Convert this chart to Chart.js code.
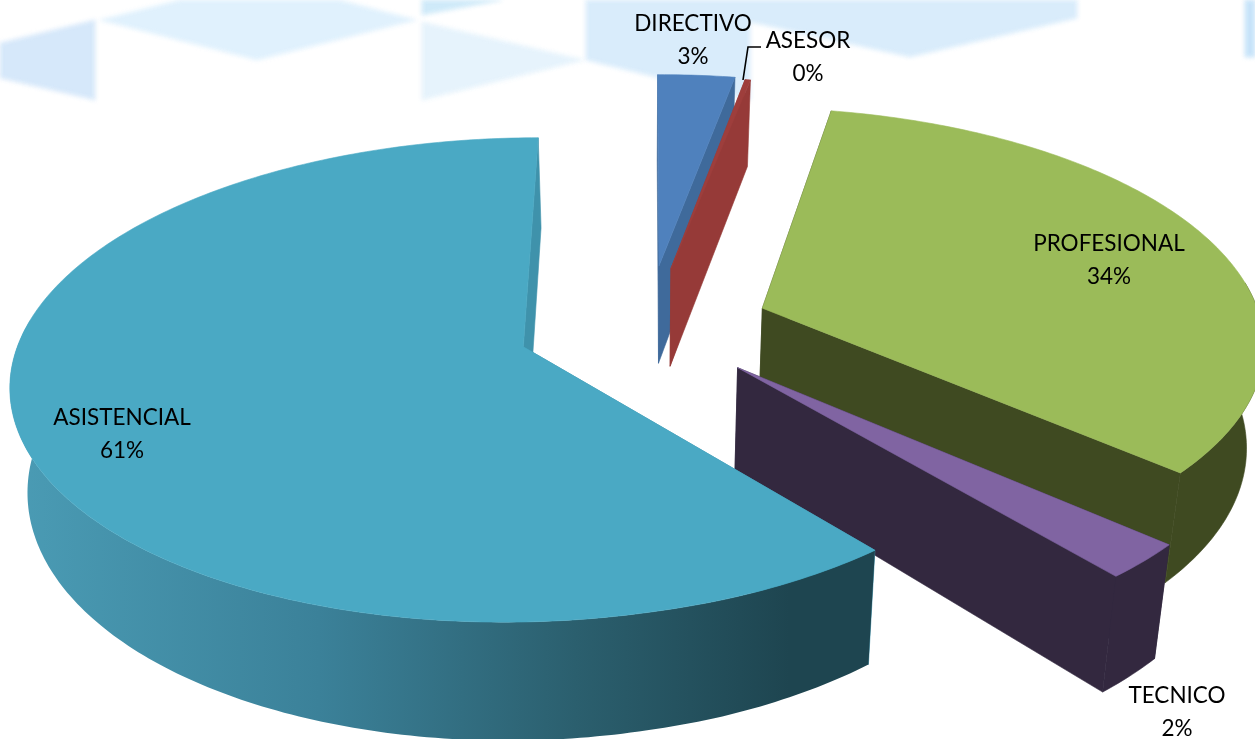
<!DOCTYPE html>
<html>
<head>
<meta charset="utf-8">
<style>html,body{margin:0;padding:0;background:#fff}canvas{display:block}</style>
<script src="https://cdn.jsdelivr.net/npm/chart.js@4"></script>
</head>
<body>
<canvas id="c" width="1255" height="739"></canvas>
<script>
const categories = ['DIRECTIVO', 'ASESOR', 'PROFESIONAL', 'TECNICO', 'ASISTENCIAL'];
const values = [2.8, 0.2, 33.5, 2.4, 61.1];
const explode = [0.27, 0.26, 0.24, 0.245, 0.26];
const topColors = ['#4F81BD', '#9E3E3C', '#9BBB59', '#8064A2', '#4AA9C4'];
const wallColors = ['#3F6A9B', '#963A38', '#3F4A21', '#33283F', '#3F92AB'];
const rimStops = [[0, '#4A9BB4'], [0.35, '#3B8199'], [0.65, '#2B5F6E'], [0.9, '#1E4550'], [1, '#1E4550']];
const labelPos = [[693, 23.5], [808, 40.5], [1109, 244], [1177, 696], [122, 418]];

const V = {X0: 647, Y0: 326, A: 500, B: 232, p: 0.135, depth: 101, vx: 640, vk: 0.028};
function proj(u, w, low) {
  const s = 1 / (1 - V.p * w);
  let X = V.X0 + V.A * u * s, Y = V.Y0 + V.B * w * s;
  if (low) { X += (V.vx - X) * V.vk; Y += V.depth * s; }
  return [X + (u > 0 ? 3 * Math.min(1, u * 8) : 0), Y];
}
function poly(ctx, pts, fill) {
  ctx.beginPath();
  pts.forEach((p, i) => i ? ctx.lineTo(p[0], p[1]) : ctx.moveTo(p[0], p[1]));
  ctx.closePath();
  ctx.fillStyle = fill; ctx.fill();
  if (typeof fill === 'string') { ctx.strokeStyle = fill; ctx.lineWidth = 0.6; ctx.stroke(); }
}
// 3D perspective drawing of each arc from its own start/end angles
const Arc = Chart.registry.getElement('arc');
Arc.prototype.draw = function (ctx) {
  const i = this.$context.dataIndex;
  const a0 = this.startAngle, a1 = this.endAngle, mid = (a0 + a1) / 2, e = explode[i];
  const cu = e * Math.cos(mid), cw = e * Math.sin(mid);
  const n = Math.max(2, Math.ceil((a1 - a0) / 0.015));
  const topRim = [], frontTop = [], frontLow = [];
  let first = null, last = null;
  for (let k = 0; k <= n; k++) {
    const a = a0 + (a1 - a0) * k / n;
    const u = cu + Math.cos(a), w = cw + Math.sin(a);
    const t = proj(u, w, false), l = proj(u, w, true);
    topRim.push(t);
    if (k === 0) first = [t, l];
    if (k === n) last = [t, l];
    if (Math.sin(a) >= -0.12) { frontTop.push(t); frontLow.push(l); }
  }
  const apexT = proj(cu, cw, false), apexL = proj(cu, cw, true);
  ctx.save();
  poly(ctx, [apexT, first[0], first[1], apexL], wallColors[i]);
  poly(ctx, [apexT, last[0], last[1], apexL], wallColors[i]);
  if (frontTop.length > 1) {
    let fill = wallColors[i];
    if (categories[i] === 'ASISTENCIAL') {
      fill = ctx.createLinearGradient(20, 0, 875, 0);
      rimStops.forEach(s => fill.addColorStop(s[0], s[1]));
    }
    poly(ctx, frontTop.concat(frontLow.slice().reverse()), fill);
  }
  poly(ctx, [apexT].concat(topRim), topColors[i]);
  ctx.restore();
};

const backdropPolys = [
  [[0,43],[95,20],[95,100],[0,78]],
  [[100,20],[180,0],[339,0],[416,20],[257,60]],
  [[422,22],[584,60],[422,100]],
  [[422,0],[502,0],[422,15]],
  [[586,0],[1077,0],[1077,18],[910,57],[750,22],[750,100],[586,60]],
  [[1245,0],[1255,0],[1255,57],[1245,57]]
];
const backdropColors = ['#D6E8FA', '#E0F1FD', '#E6F3FC', '#CFEAF9', '#D9ECFB', '#C6E3F9'];
const backdrop = {
  id: 'backdrop',
  beforeDraw(chart) {
    const ctx = chart.ctx;
    ctx.save();
    ctx.filter = 'blur(2px)';
    backdropPolys.forEach((p, i) => poly(ctx, p, backdropColors[i]));
    ctx.restore();
  }
};
const labels3d = {
  id: 'labels3d',
  afterDraw(chart) {
    const ctx = chart.ctx;
    ctx.save();
    ctx.strokeStyle = '#000'; ctx.lineWidth = 1.6;
    ctx.beginPath(); ctx.moveTo(743, 80); ctx.lineTo(748, 47); ctx.lineTo(761, 47); ctx.stroke();
    ctx.fillStyle = '#000';
    ctx.font = '22.5px Lato';
    ctx.textAlign = 'center'; ctx.textBaseline = 'middle';
    categories.forEach((c, i) => {
      ctx.fillText(c, labelPos[i][0], labelPos[i][1]);
      ctx.fillText(Math.round(values[i]) + '%', labelPos[i][0], labelPos[i][1] + 33);
    });
    ctx.restore();
  }
};
new Chart(document.getElementById('c'), {
  type: 'pie',
  data: {labels: categories, datasets: [{data: values, backgroundColor: topColors, borderWidth: 0}]},
  options: {
    responsive: false, animation: false, devicePixelRatio: 1,
    layout: {padding: 0},
    plugins: {legend: {display: false}, tooltip: {enabled: false}, title: {display: false}}
  },
  plugins: [backdrop, labels3d]
});
</script>
</body>
</html>
